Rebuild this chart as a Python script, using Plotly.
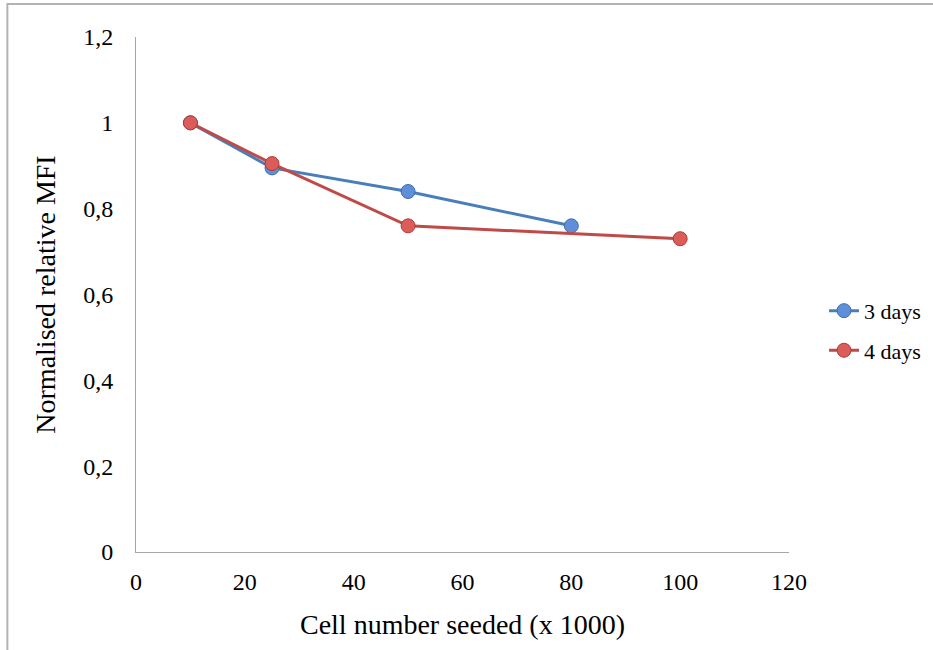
import plotly.graph_objects as go

# Cell seeding density (thousands of cells) and normalised MFI per incubation time
cells_3_days = [10, 25, 50, 80]
mfi_3_days = [1.0, 0.895, 0.84, 0.76]

cells_4_days = [10, 25, 50, 100]
mfi_4_days = [1.0, 0.905, 0.76, 0.73]

x_ticks = [0, 20, 40, 60, 80, 100, 120]
y_ticks = [0, 0.2, 0.4, 0.6, 0.8, 1.0, 1.2]
y_tick_text = ["0", "0,2", "0,4", "0,6", "0,8", "1", "1,2"]

SERIF = "Liberation Serif"
BLUE_LINE = "#4A7EBB"
BLUE_FILL = "#5E8FD8"
BLUE_EDGE = "#3E6CAE"
RED_LINE = "#BE4B48"
RED_FILL = "#DC5C5A"
RED_EDGE = "#A93D3A"

fig = go.Figure()
fig.add_trace(go.Scatter(
    x=cells_3_days, y=mfi_3_days, name="3 days", mode="lines+markers",
    legendgroup="a",
    line=dict(color=BLUE_LINE, width=3),
    marker=dict(size=14, color=BLUE_FILL, line=dict(color=BLUE_EDGE, width=1)),
))
fig.add_trace(go.Scatter(
    x=cells_4_days, y=mfi_4_days, name="4 days", mode="lines+markers",
    legendgroup="b",
    line=dict(color=RED_LINE, width=3),
    marker=dict(size=14, color=RED_FILL, line=dict(color=RED_EDGE, width=1)),
))

axis_line = dict(showline=True, linecolor="#A6A6A6", linewidth=1,
                 showgrid=False, zeroline=False, ticks="")

fig.update_xaxes(
    range=[0, 120], tickvals=x_ticks, ticktext=[str(v) for v in x_ticks],
    tickfont=dict(family=SERIF, size=24, color="black"),
    ticklabelstandoff=8,
    title=dict(text="Cell number seeded (x 1000)",
               font=dict(family=SERIF, size=28, color="black"), standoff=20),
    **axis_line,
)
fig.update_yaxes(
    range=[0, 1.2], tickvals=y_ticks, ticktext=y_tick_text,
    tickfont=dict(family=SERIF, size=24, color="black"),
    ticklabelstandoff=17,
    title=dict(text="Normalised relative MFI",
               font=dict(family=SERIF, size=28, color="black"), standoff=19),
    **axis_line,
)

# Light grey frame around the chart area
fig.add_shape(type="rect", xref="paper", yref="paper",
              x0=-0.197, x1=1.6, y0=-0.6, y1=1.064,
              line=dict(color="#B3B3B3", width=2), fillcolor="rgba(0,0,0,0)",
              layer="below")

fig.update_layout(
    width=933, height=650, autosize=False,
    margin=dict(l=136, r=144, t=37, b=98, autoexpand=False),
    plot_bgcolor="white", paper_bgcolor="white",
    font=dict(family=SERIF, color="black"),
    showlegend=True,
    legend=dict(xref="container", yref="container",
                x=0.8832, y=0.491, xanchor="left", yanchor="middle",
                font=dict(family=SERIF, size=22, color="black"),
                tracegroupgap=8, itemwidth=30, bgcolor="rgba(0,0,0,0)"),
)

fig.write_html("out.html")
